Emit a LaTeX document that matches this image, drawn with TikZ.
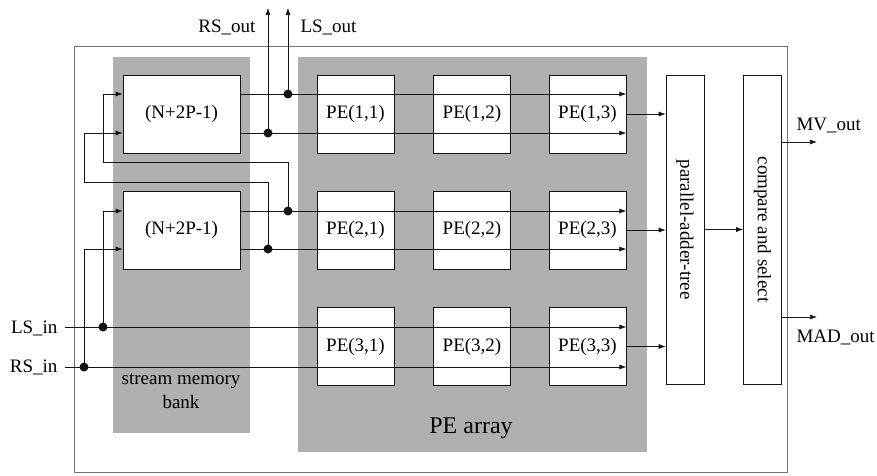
\documentclass[tikz,border=0pt]{standalone}
\usepackage{fontspec}
\setmainfont{Liberation Serif}
\usetikzlibrary{arrows.meta,positioning}
\definecolor{Ink}{HTML}{151515}
\definecolor{Screen}{HTML}{B0B0B0}
\definecolor{Frame}{HTML}{707070}

\begin{document}
\begin{tikzpicture}[
  x=1pt, y=-1pt,
  font=\fontsize{19}{21}\selectfont,
  unit/.style={draw=Ink, fill=white, line width=0.6pt, inner sep=0pt,
    minimum width=77pt, minimum height=78pt},
  memunit/.style={unit, minimum width=117pt},
  tallunit/.style={unit, minimum width=38pt, minimum height=309pt},
  wire/.style={draw=Ink, line width=0.6pt},
  arr/.style={wire, -{Latex[length=7pt,width=5pt]}},
  tap/.style={circle, fill=Ink, inner sep=0pt, minimum size=9pt}
]
\useasboundingbox (0,0) rectangle (877,475);

% frame and shaded areas
\draw[Frame, line width=0.6pt] (74,46) rectangle (787,472);
\fill[Screen] (113,57) rectangle (250,433);
\fill[Screen] (298,57) rectangle (647,452);
\node[align=center, anchor=base, font=\fontsize{19}{24}\selectfont] (banklbl) at (181,408) {stream memory\\bank};
\node[anchor=base, font=\fontsize{24}{26}\selectfont] (arraylbl) at (471,433) {PE array};

% stream memory
\node[memunit] (mem1) at (181.5,114) {(N+2P-1)};
\node[memunit] (mem2) at (181.5,230) {(N+2P-1)};

% PE array
\node[unit] (pe11) at (355.5,114) {PE(1,1)};
\node[unit] (pe12) at (472,114) {PE(1,2)};
\node[unit] (pe13) at (587.5,114) {PE(1,3)};
\node[unit] (pe21) at (355.5,230) {PE(2,1)};
\node[unit] (pe22) at (472,230) {PE(2,2)};
\node[unit] (pe23) at (587.5,230) {PE(2,3)};
\node[unit] (pe31) at (355.5,346.5) {PE(3,1)};
\node[unit] (pe32) at (472,346.5) {PE(3,2)};
\node[unit] (pe33) at (587.5,346.5) {PE(3,3)};

\node[tallunit, label={[rotate=-90]center:parallel-adder-tree}] (adder) at (685,229.5) {};
\node[tallunit, label={[rotate=-90]center:compare and select}] (cmp) at (762.5,229.5) {};

% taps and ports
\coordinate (ls1) at (288,94);
\coordinate (rs1) at (268,133);
\coordinate (ls2) at (288,211);
\coordinate (rs2) at (268,249);
\coordinate (lstap) at (103,327);
\coordinate (rstap) at (84,367);
\coordinate (fbl) at (103,162);
\coordinate (fbr) at (84,182);
\coordinate (lsin) at (65,327);
\coordinate (rsin) at (65,367);
\coordinate (lsout) at (288,8);
\coordinate (rsout) at (268,8);
\coordinate (mvout) at (817,142);
\coordinate (madout) at (817,317);

% search data through the array
\draw[arr] (mem1.east |- ls1) -- (pe13.east |- ls1);
\draw[arr] (mem1.east |- rs1) -- (pe13.east |- rs1);
\draw[arr] (mem2.east |- ls2) -- (pe23.east |- ls2);
\draw[arr] (mem2.east |- rs2) -- (pe23.east |- rs2);
\draw[arr] (lsin) -- (pe33.east |- lsin);
\draw[arr] (rsin) -- (pe33.east |- rsin);

% feedback into the memory bank
\draw[arr] (ls2) |- (fbl) |- (mem1.west |- ls1);
\draw[arr] (rs2) |- (fbr) |- (mem1.west |- rs1);
\draw[arr] (lstap) |- (mem2.west |- ls2);
\draw[arr] (rstap) |- (mem2.west |- rs2);
\draw[arr] (ls1) -- (lsout);
\draw[arr] (rs1) -- (rsout);

% results
\draw[arr] (pe13.east) -- (adder.west |- pe13.east);
\draw[arr] (pe23.east) -- (adder.west |- pe23.east);
\draw[arr] (pe33.east) -- (adder.west |- pe33.east);
\draw[arr] (adder.east) -- (cmp.west |- adder.east);
\draw[arr] (cmp.east |- mvout) -- (mvout);
\draw[arr] (cmp.east |- madout) -- (madout);

\foreach \p in {ls1,rs1,ls2,rs2,lstap,rstap}
  \node[tap] at (\p) {};

% port labels
\node[anchor=base east] (lsinlbl) at (61,333) {LS\_in};
\node[anchor=base east] (rsinlbl) at (61,372) {RS\_in};
\node[anchor=base east] (rsoutlbl) at (259,32) {RS\_out};
\node[anchor=base west] (lsoutlbl) at (297,32) {LS\_out};
\node[anchor=base west] (mvoutlbl) at (793,130) {MV\_out};
\node[anchor=base west] (madoutlbl) at (793,342) {MAD\_out};
\end{tikzpicture}
\end{document}
